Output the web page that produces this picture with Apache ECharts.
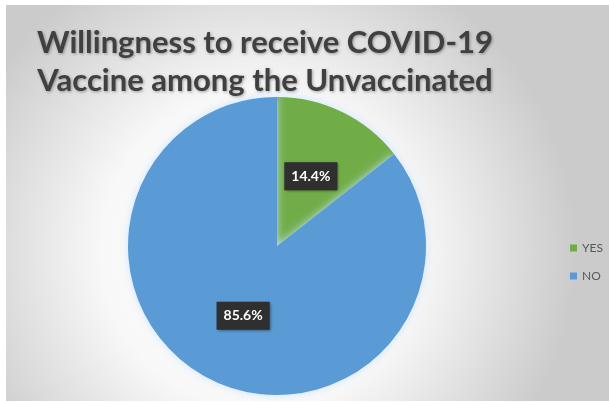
<!DOCTYPE html>
<html>
<head>
<meta charset="utf-8">
<script src="https://cdn.jsdelivr.net/npm/echarts@6/dist/echarts.min.js"></script>
<style>
html,body{margin:0;padding:0;background:#fff;}
#chart{width:609px;height:402px;}
</style>
</head>
<body>
<div id="chart"></div>
<script>
const titleLines = ['Willingness to receive COVID-19', 'Vaccine among the Unvaccinated'];
const categories = ['YES', 'NO'];
const values = [14.4, 85.6];
const colors = ['#70AD47', '#5B9BD5'];

const chart = echarts.init(document.getElementById('chart'), null, {renderer: 'canvas'});
chart.setOption({
  animation: false,
  graphic: [{
    type: 'rect',
    z: -10,
    shape: {x: 6, y: 5, width: 603, height: 396},
    style: {
      fill: {
        type: 'radial', x: 0.42, y: 0.62, r: 0.8,
        colorStops: [
          {offset: 0, color: '#ffffff'},
          {offset: 0.5, color: '#f8f8f8'},
          {offset: 1, color: '#cbcbcb'}
        ]
      }
    }
  }],
  title: {
    text: titleLines.join('\n'),
    left: 260,
    top: 19,
    textAlign: 'center',
    textStyle: {
      fontFamily: 'Lato',
      fontWeight: 'bold',
      fontSize: 31,
      lineHeight: 38,
      color: '#404040',
      textShadowColor: 'rgba(0,0,0,0.35)',
      textShadowBlur: 3,
      textShadowOffsetX: 1,
      textShadowOffsetY: 1
    }
  },
  legend: {
    orient: 'vertical',
    left: 565,
    top: 237,
    icon: 'rect',
    itemWidth: 7,
    itemHeight: 7,
    itemGap: 16,
    itemTextGap: 6,
    data: categories,
    textStyle: {fontFamily: 'Lato', fontSize: 12, color: '#595959'}
  },
  series: [{
    type: 'pie',
    center: [277, 246],
    radius: 149,
    startAngle: 90,
    clockwise: true,
    data: categories.map((c, i) => ({name: c, value: values[i], itemStyle: {color: colors[i]}})),
    itemStyle: {
      shadowBlur: 8,
      shadowColor: 'rgba(200,225,255,0.9)'
    },
    label: {
      show: true,
      position: 'inside',
      formatter: p => p.value.toFixed(1) + '%',
      color: '#ffffff',
      fontFamily: 'Lato',
      fontWeight: 'bold',
      fontSize: 14,
      backgroundColor: '#2f2f2f',
      padding: [7, 7, 7, 7],
      shadowBlur: 3,
      shadowColor: 'rgba(0,0,0,0.5)',
      shadowOffsetX: 1,
      shadowOffsetY: 1
    },
    labelLine: {show: false},
    emphasis: {disabled: true}
  }]
});
</script>
</body>
</html>
